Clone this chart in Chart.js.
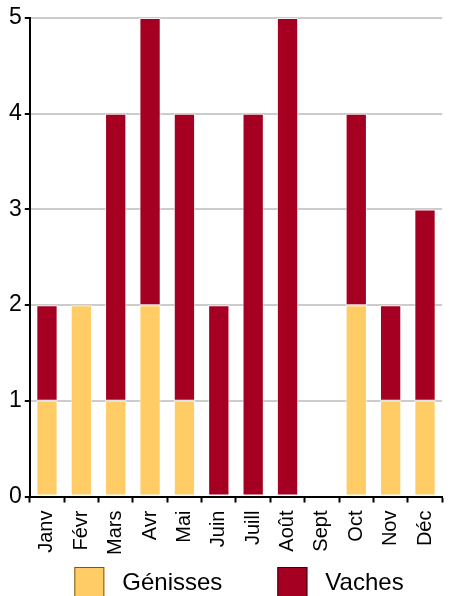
<!DOCTYPE html>
<html>
<head>
<meta charset="utf-8">
<script src="https://cdn.jsdelivr.net/npm/chart.js@4"></script>
<style>
    html, body { margin: 0; padding: 0; background: #fff; overflow: hidden; }
    #wrap { width: 457px; height: 596px; position: relative; }
</style>
</head>
<body>
<div id="wrap"><canvas id="cattleChart"></canvas></div>
<script>
const months = ['Janv', 'Févr', 'Mars', 'Avr', 'Mai', 'Juin', 'Juill', 'Août', 'Sept', 'Oct', 'Nov', 'Déc'];
const genisses = [1, 2, 1, 2, 1, 0, 0, 0, 0, 2, 1, 1];
const vaches = [1, 0, 3, 3, 3, 2, 4, 5, 0, 2, 1, 2];
const yTicks = [0, 1, 2, 3, 4, 5];

const font = 'Arial, "Liberation Sans", sans-serif';

// legend drawn by hand so the spacing matches the original (boxes centred under the plot)
const bottomLegend = {
    id: 'bottomLegend',
    afterDraw(chart) {
        const c = chart.ctx;
        const area = chart.chartArea;
        c.save();
        c.font = '24px ' + font;
        c.textBaseline = 'middle';
        c.textAlign = 'left';
        const box = 30, gap = 18, between = 55;
        const items = chart.data.datasets.map((ds, i) => ({
            text: ds.label,
            fill: ds.backgroundColor,
            stroke: i === 0 ? '#7a5a1a' : '#400010',
            w: box + gap + c.measureText(ds.label).width
        }));
        const total = items.reduce((s, it) => s + it.w, 0) + between * (items.length - 1);
        let x = (area.left + area.right) / 2 - total / 2 + 3;
        const y = 567;
        items.forEach(it => {
            c.fillStyle = it.fill;
            c.fillRect(x, y, box, box);
            c.strokeStyle = it.stroke;
            c.lineWidth = 1;
            c.strokeRect(x + 0.5, y + 0.5, box - 1, box - 1);
            c.fillStyle = '#000';
            c.fillText(it.text, x + box + gap, y + box / 2 + 1);
            x += it.w + between;
        });
        c.restore();
    }
};

const ctx = document.getElementById('cattleChart').getContext('2d');
new Chart(ctx, {
    type: 'bar',
    data: {
        labels: months,
        datasets: [
            {
                label: 'Génisses',
                data: genisses,
                backgroundColor: '#FFCC66',
                borderColor: 'rgba(255,255,255,0.7)',
                borderWidth: 1,
                borderSkipped: false
            },
            {
                label: 'Vaches',
                data: vaches,
                backgroundColor: '#A50021',
                borderColor: 'rgba(255,255,255,0.7)',
                borderWidth: 1,
                borderSkipped: false
            }
        ]
    },
    plugins: [bottomLegend],
    options: {
        responsive: true,
        maintainAspectRatio: false,
        animation: false,
        layout: { padding: { top: 18, left: 6, right: 0, bottom: 33 } },
        datasets: { bar: { categoryPercentage: 0.62, barPercentage: 1.0 } },
        plugins: {
            tooltip: { enabled: false },
            legend: { display: false }
        },
        scales: {
            x: {
                stacked: true,
                border: { color: '#000', width: 2 },
                grid: {
                    offset: true,
                    drawOnChartArea: false,
                    drawTicks: true,
                    tickLength: 6,
                    tickColor: '#000',
                    tickWidth: 2
                },
                ticks: {
                    color: '#000',
                    font: { family: font, size: 20 },
                    minRotation: 90,
                    maxRotation: 90,
                    padding: 8
                }
            },
            y: {
                stacked: true,
                min: 0,
                max: 5,
                afterBuildTicks: axis => { axis.ticks = yTicks.map(v => ({ value: v })); },
                border: { color: '#000', width: 2 },
                grid: {
                    color: '#cccccc',
                    lineWidth: 2,
                    drawTicks: true,
                    tickLength: 5,
                    tickColor: '#000',
                    tickWidth: 2
                },
                ticks: {
                    color: '#000',
                    font: { family: font, size: 23 },
                    padding: 3
                }
            }
        }
    }
});
</script>
</body>
</html>
